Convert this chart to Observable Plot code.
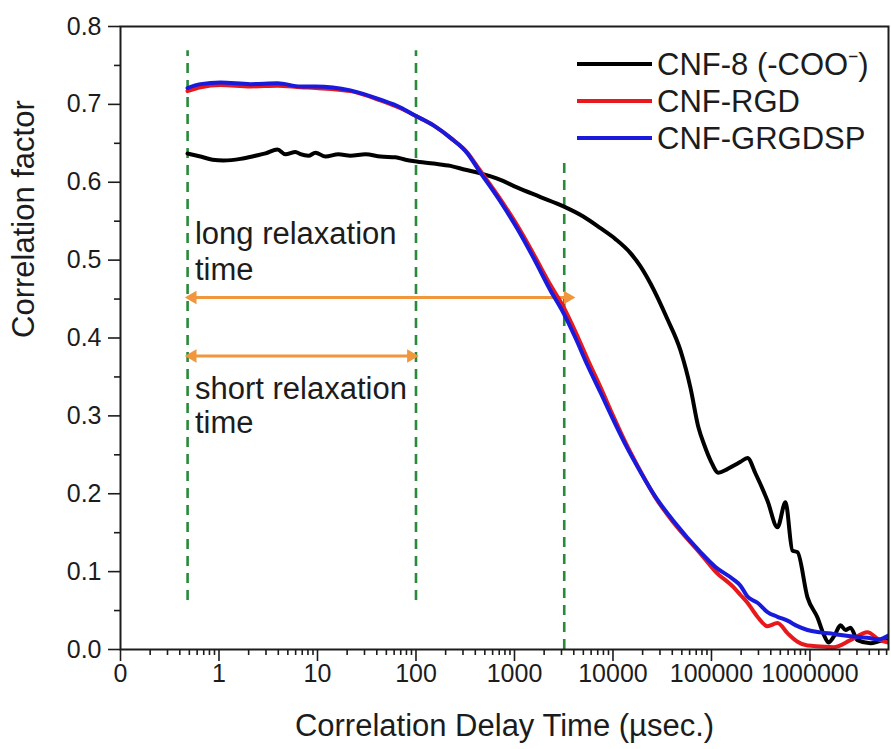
<!DOCTYPE html>
<html>
<head>
<meta charset="utf-8">
<script src="https://cdn.jsdelivr.net/npm/d3@7"></script>
<script src="https://cdn.jsdelivr.net/npm/@observablehq/plot@0.6"></script>
<style>
  html, body { margin: 0; padding: 0; background: #fff; }
  #chart { width: 891px; height: 749px; }
</style>
</head>
<body>
<div id="chart"></div>
<script>
// ---------- data ----------
const seriesNames = ["CNF-8 (-COO\u207B)", "CNF-RGD", "CNF-GRGDSP"];
const seriesColors = ["#000000", "#e8191c", "#1a1adc"];

// CNF-8 (-COO-) : delay time (µs) and correlation factor
const tBlack = [0.479, 0.649, 0.859, 1.111, 1.653, 2.347, 2.966, 3.93, 4.733, 5.98,
  6.72, 8.10, 9.54, 12.06, 16.34, 21.6, 30.7, 43.6, 61.9, 78.2,
  96.6, 150.6, 224, 318, 431, 721, 1073, 1837, 3145, 4995,
  7467, 10600, 15060, 19020, 24030, 35750, 48440, 61200, 73800, 84900,
  97700, 117800, 142000, 167200, 197000, 232000, 279800, 370300, 467900, 564000,
  664000, 746700, 943200, 1.192e6, 1.371e6, 1.541e6, 1.773e6, 2.040e6, 2.293e6, 2.578e6,
  3.036e6, 4.114e6, 5.196e6, 6.27e6];
const vBlack = [0.637, 0.633, 0.629, 0.628, 0.630, 0.634, 0.637, 0.642, 0.636, 0.639,
  0.636, 0.634, 0.638, 0.633, 0.636, 0.634, 0.636, 0.633, 0.632, 0.629,
  0.627, 0.624, 0.621, 0.616, 0.612, 0.603, 0.593, 0.581, 0.569, 0.556,
  0.541, 0.527, 0.509, 0.492, 0.470, 0.424, 0.384, 0.336, 0.285, 0.262,
  0.243, 0.227, 0.231, 0.236, 0.241, 0.246, 0.226, 0.191, 0.157, 0.189,
  0.127, 0.125, 0.067, 0.041, 0.020, 0.009, 0.018, 0.031, 0.025, 0.028,
  0.012, 0.008, 0.011, 0.012];

// CNF-RGD and CNF-GRGDSP share the same delay times
const tPeptide = [0.479, 0.649, 1.036, 2.09, 3.93, 6.72, 9.54, 21.6, 43.6, 69.6,
  96.6, 150.6, 224, 333, 431, 721, 1073, 1559, 2320, 3145,
  4163, 5510, 7467, 9883, 13390, 19020, 27010, 41150, 77340, 109800,
  167200, 197000, 232000, 293000, 370300, 467900, 591000, 746700, 943200, 1.279e6,
  1.732e6, 2.578e6, 3.836e6, 4.96e6, 6.27e6];
const vRed = [0.717, 0.722, 0.725, 0.723, 0.724, 0.722, 0.721, 0.717, 0.705, 0.695,
  0.686, 0.673, 0.657, 0.638, 0.618, 0.578, 0.544, 0.508, 0.468, 0.440,
  0.408, 0.373, 0.337, 0.302, 0.266, 0.229, 0.195, 0.163, 0.123, 0.100,
  0.080, 0.070, 0.060, 0.042, 0.030, 0.034, 0.021, 0.010, 0.005, 0.004,
  0.003, 0.012, 0.022, 0.013, 0.009];
const vBlue = [0.721, 0.726, 0.728, 0.726, 0.727, 0.723, 0.723, 0.718, 0.706, 0.696,
  0.686, 0.673, 0.657, 0.637, 0.616, 0.575, 0.540, 0.503, 0.461, 0.432,
  0.400, 0.365, 0.330, 0.297, 0.263, 0.228, 0.196, 0.165, 0.125, 0.106,
  0.090, 0.082, 0.068, 0.060, 0.048, 0.042, 0.037, 0.030, 0.025, 0.022,
  0.020, 0.017, 0.015, 0.013, 0.018];

// axis ticks
const xMajorTicks = [0.1, 1, 10, 100, 1000, 10000, 100000, 1000000];
const xTickLabels = ["0", "1", "10", "100", "1000", "10000", "100000", "1000000"];
const yMajorTicks = [0, 0.1, 0.2, 0.3, 0.4, 0.5, 0.6, 0.7, 0.8];
const yMinorTicks = [0.05, 0.15, 0.25, 0.35, 0.45, 0.55, 0.65, 0.75];
const xMinorMultipliers = [2, 3, 4, 5, 6, 7, 8, 9];

// annotations
const guideTimes = [0.48, 100, 3200];          // dashed green lines
const guideTop = [0.769, 0.769, 0.628];
const guideBottom = [0.063, 0.063, 0];
const arrowY = [0.452, 0.377];                  // long / short relaxation arrows
const arrowFrom = [0.48, 0.48];
const arrowTo = [3900, 100];
const noteLines = ["long relaxation", "time", "short relaxation", "time"];
const noteY = [0.534, 0.487, 0.335, 0.291];
const noteX = 0.57;

const xTitle = "Correlation Delay Time (\u00B5sec.)";
const yTitle = "Correlation factor";

// ---------- build tables ----------
const mk = (ts, vs) => ts.map((t, i) => ({t, v: vs[i]}));
const black = mk(tBlack, vBlack);
const red = mk(tPeptide, vRed);
const blue = mk(tPeptide, vBlue);
const labelOf = new Map(xMajorTicks.map((d, i) => [d, xTickLabels[i]]));
const xMinorTicks = [];
for (let k = -1; k <= 6; k++) for (const m of xMinorMultipliers) {
  const v = m * Math.pow(10, k);
  if (v <= 6.27e6) xMinorTicks.push(v);
}
const guides = guideTimes.map((t, i) => ({t, y1: guideBottom[i], y2: guideTop[i]}));
const arrows = arrowY.map((y, i) => ({y, x1: arrowFrom[i], x2: arrowTo[i]}));
const FONT = "'Liberation Sans', Arial, Helvetica, sans-serif";
const ink = "#1c1c1c";
const orange = "#f0963c";

const notes = noteLines.map((s, i) => ({s, y: noteY[i]}));

const chart = Plot.plot({
  width: 891,
  height: 749,
  marginLeft: 120,
  marginRight: 3,
  marginTop: 26,
  marginBottom: 100,
  x: {type: "log", domain: [0.1, 6.27e6]},
  y: {domain: [0, 0.8]},
  style: {fontFamily: FONT, color: ink, background: "#fff", overflow: "visible"},
  marks: [
    // minor ticks
    Plot.axisY({ticks: yMinorTicks, tickSize: 6, text: null, strokeWidth: 1.6, label: null}),
    Plot.axisX({ticks: xMinorTicks, tickSize: 6, text: null, strokeWidth: 1.6, label: null}),
    // major ticks with labels
    Plot.axisY({ticks: yMajorTicks, tickSize: 12, tickPadding: 7, strokeWidth: 1.6,
      tickFormat: d3.format(".1f"), fontSize: 25, label: null}),
    Plot.axisX({ticks: xMajorTicks, tickSize: 12, tickPadding: 3, strokeWidth: 1.6,
      tickFormat: d => labelOf.get(d), fontSize: 25, label: null}),
    // dashed guide lines
    Plot.ruleX(guides, {x: "t", y1: "y1", y2: "y2", stroke: "#2a8a3c",
      strokeWidth: 2.6, strokeDasharray: "10,7"}),
    // orange double arrows
    Plot.link(arrows, {x1: "x1", x2: "x2", y1: "y", y2: "y", stroke: orange, strokeWidth: 3}),
    Plot.dot(arrows, {x: "x1", y: "y", rotate: -90, symbol: "triangle", r: 5,
      fill: orange, stroke: "none", dx: 5}),
    Plot.dot(arrows, {x: "x2", y: "y", rotate: 90, symbol: "triangle", r: 5,
      fill: orange, stroke: "none", dx: -5}),
    // data
    Plot.line(black, {x: "t", y: "v", stroke: seriesColors[0], strokeWidth: 4, clip: true, curve: "monotone-x"}),
    Plot.line(red, {x: "t", y: "v", stroke: seriesColors[1], strokeWidth: 4, clip: true, curve: "monotone-x"}),
    Plot.line(blue, {x: "t", y: "v", stroke: seriesColors[2], strokeWidth: 4, clip: true, curve: "monotone-x"}),
    // annotation text
    Plot.text(notes, {x: () => noteX, y: "y", text: "s", textAnchor: "start",
      fontSize: 31, fill: ink}),
    // axis titles
    Plot.text([xTitle], {frameAnchor: "bottom", dy: 86, fontSize: 31, fill: ink}),
    Plot.text([yTitle], {frameAnchor: "left", dx: -96, rotate: -90, fontSize: 31, fill: ink}),
    // frame
    Plot.frame({stroke: ink, strokeWidth: 2})
  ]
});

document.getElementById("chart").appendChild(chart);

// legend inside the plot, top right
const svg = d3.select(chart);
const leg = svg.append("g").attr("font-family", FONT).attr("font-size", 31)
  .attr("fill", ink).attr("text-anchor", "start");
const rowY = [64, 101, 138];
seriesNames.forEach((name, i) => {
  leg.append("line").attr("x1", 577).attr("x2", 652).attr("y1", rowY[i]).attr("y2", rowY[i])
    .attr("stroke", seriesColors[i]).attr("stroke-width", 4);
  leg.append("text").attr("x", 657).attr("y", rowY[i]).attr("dy", "0.35em")
    .attr("text-anchor", "start").text(name);
});
</script>
</body>
</html>
